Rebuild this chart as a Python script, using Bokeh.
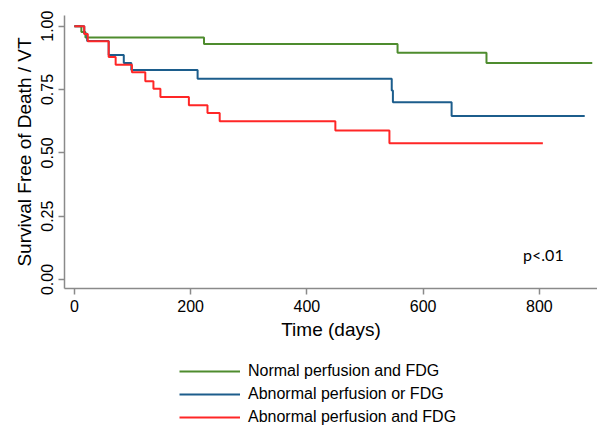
from bokeh.plotting import figure
from bokeh.models import Legend, LegendItem, FixedTicker, Range1d
from bokeh.layouts import column
from bokeh.core.properties import value
from bokeh.embed import file_html
from bokeh.resources import INLINE

# Kaplan-Meier step data (days, survival)
normal_t = [0, 12, 19, 223, 556, 709, 891]
normal_s = [1.0, 0.977, 0.955, 0.930, 0.895, 0.855, 0.855]

abn_or_t = [0, 17, 22, 59, 85, 98, 212, 546, 548, 649, 878]
abn_or_s = [1.0, 0.970, 0.941, 0.886, 0.855, 0.827, 0.792, 0.746, 0.700, 0.645, 0.645]

abn_and_t = [0, 17, 23, 59, 71, 99, 122, 136, 148, 197, 229, 250, 449, 542, 806]
abn_and_s = [1.0, 0.969, 0.940, 0.878, 0.848, 0.818, 0.782, 0.753, 0.720, 0.688, 0.657, 0.625, 0.588, 0.538, 0.538]

series_names = ["Normal perfusion and FDG", "Abnormal perfusion or FDG", "Abnormal perfusion and FDG"]
series_colors = ["#4e8c2e", "#1c5d8c", "#ff2626"]

x_ticks = [0, 200, 400, 600, 800]
y_ticks = [0.0, 0.25, 0.5, 0.75, 1.0]
y_tick_labels = {0.0: "0.00", 0.25: "0.25", 0.5: "0.50", 0.75: "0.75", 1.0: "1.00"}

annotation_text = "p<.01"
annotation_x = 772
annotation_y = 0.10

FONT = "Liberation Sans"
AXIS_COLOR = "#8a8a8a"

p = figure(width=597, height=350, output_backend="svg", toolbar_location=None,
           x_range=Range1d(-17, 900), y_range=Range1d(-0.0355, 1.042),
           min_border_left=64, min_border_right=0, min_border_top=15, min_border_bottom=62)
p.outline_line_color = None
p.xgrid.visible = False
p.ygrid.visible = False
p.background_fill_color = "white"

p.step(normal_t, normal_s, mode="after", line_color=series_colors[0], line_width=2)
p.step(abn_or_t, abn_or_s, mode="after", line_color=series_colors[1], line_width=2)
p.step(abn_and_t, abn_and_s, mode="after", line_color=series_colors[2], line_width=2)

p.text(x=[annotation_x], y=[annotation_y], text=[annotation_text], text_font=value("Lato"),
       text_font_size="16px", text_baseline="middle", text_align="left", text_color="black")

for ax in (p.xaxis[0], p.yaxis[0]):
    ax.axis_line_color = AXIS_COLOR
    ax.axis_line_width = 1.5
    ax.major_tick_line_color = AXIS_COLOR
    ax.major_tick_line_width = 1.5
    ax.major_tick_in = 0
    ax.major_tick_out = 6
    ax.minor_tick_line_color = None
    ax.major_label_text_font = FONT
    ax.major_label_text_font_size = "16px"
    ax.major_label_text_color = "black"
    ax.axis_label_text_font = FONT
    ax.axis_label_text_font_size = "19px"
    ax.axis_label_text_font_style = "normal"
    ax.axis_label_text_color = "black"

p.xaxis.ticker = FixedTicker(ticks=x_ticks)
p.yaxis.ticker = FixedTicker(ticks=y_ticks)
p.yaxis.major_label_overrides = y_tick_labels
p.yaxis.major_label_orientation = "vertical"
p.xaxis.axis_label = "Time (days)"
p.yaxis.axis_label = "Survival Free of Death / VT"
p.xaxis.major_label_standoff = 5
p.xaxis.axis_label_standoff = 4
p.yaxis.major_label_standoff = 5
p.yaxis.axis_label_standoff = 4

# legend panel below the chart (single-point lines: only their legend swatches show)
p2 = figure(width=597, height=78, output_backend="svg", toolbar_location=None,
            x_range=Range1d(0, 1), y_range=Range1d(0, 1),
            x_axis_type=None, y_axis_type=None,
            min_border_left=0, min_border_right=0, min_border_top=0, min_border_bottom=0)
p2.outline_line_color = None
p2.xgrid.visible = False
p2.ygrid.visible = False
items = []
for name, color in zip(series_names, series_colors):
    rr = p2.line(x=[0], y=[0], line_color=color, line_width=2)
    items.append(LegendItem(label=name, renderers=[rr]))

legend = Legend(items=items, location=(115, 1), orientation="vertical",
                glyph_width=61, glyph_height=20, label_height=20, spacing=3,
                label_standoff=8, padding=0, margin=0,
                label_text_font=FONT, label_text_font_size="16px",
                label_text_color="black",
                border_line_color=None, background_fill_alpha=0)
p2.add_layout(legend, "center")

layout = column(p, p2, spacing=0)
open("out.html", "w").write(file_html(layout, INLINE))
